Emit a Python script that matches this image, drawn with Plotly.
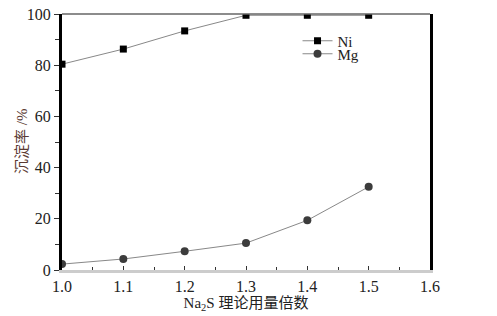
import plotly.graph_objects as go

x_vals = [1.0, 1.1, 1.2, 1.3, 1.4, 1.5]
ni_vals = [80.4, 86.3, 93.4, 99.5, 99.5, 99.5]
mg_vals = [2.3, 4.3, 7.3, 10.5, 19.4, 32.5]
x_ticks = [1.0, 1.1, 1.2, 1.3, 1.4, 1.5, 1.6]
y_ticks = [0, 20, 40, 60, 80, 100]

FONT = "Liberation Serif, Times New Roman, Noto Sans CJK SC, serif"

fig = go.Figure()
fig.add_trace(go.Scatter(
    x=x_vals, y=ni_vals, mode="lines+markers", name="Ni", legend="legend",
    line=dict(color="#888888", width=1),
    marker=dict(symbol="square", size=7, color="#000000"),
))
fig.add_trace(go.Scatter(
    x=x_vals, y=mg_vals, mode="lines+markers", name="Mg", legend="legend2",
    line=dict(color="#888888", width=1),
    marker=dict(symbol="circle", size=8, color="#3c3c3c"),
))

leg = dict(xanchor="left", yanchor="middle", bgcolor="rgba(0,0,0,0)",
           font=dict(size=15, color="#222222"), itemwidth=30,
           borderwidth=0)
fig.update_layout(
    width=497, height=316,
    margin=dict(l=62, r=67, t=14, b=46),
    paper_bgcolor="white", plot_bgcolor="white",
    font=dict(family=FONT, size=15, color="#222222"),
    showlegend=True,
    legend=dict(leg, x=0.64, y=(270 - 41) / 256),
    legend2=dict(leg, x=0.64, y=(270 - 54) / 256),
    xaxis=dict(
        range=[1.0, 1.6], tickvals=x_ticks, ticktext=[f"{v:.1f}" for v in x_ticks],
        showgrid=False, zeroline=False, automargin=False,
        showline=True, linecolor="#cccccc", linewidth=3, mirror=False,
        ticks="inside", ticklen=4, tickcolor="#333333",
        minor=dict(dtick=0.05, tick0=1.0, ticks="inside", ticklen=3, tickcolor="#333333"),
        tickfont=dict(size=16),
        title=dict(text="Na<sub>2</sub>S 理论用量倍数", standoff=4, font=dict(size=15)),
    ),
    yaxis=dict(
        range=[0, 100], tickvals=y_ticks,
        showgrid=False, zeroline=False, automargin=False,
        showline=True, linecolor="#000000", linewidth=3, mirror=True,
        ticks="outside", ticklen=5, tickcolor="#333333",
        minor=dict(dtick=10, tick0=0, ticks="outside", ticklen=4, tickcolor="#333333"),
        tickfont=dict(size=16),
    ),
    annotations=[dict(text="沉淀率 /%", xref="paper", yref="paper", x=0, y=0.5,
                      xanchor="center", yanchor="middle",
                      xshift=-40, textangle=-90, showarrow=False,
                      font=dict(size=15, color="#5a3a32"))],
    shapes=[dict(type="line", xref="paper", yref="paper", x0=0, x1=1, y0=1, y1=1,
                 line=dict(color="#666666", width=1.5))],
)

fig.write_html("out.html", config={"displayModeBar": False},
               post_script="document.body.style.margin='0';document.body.style.overflow='hidden';")
